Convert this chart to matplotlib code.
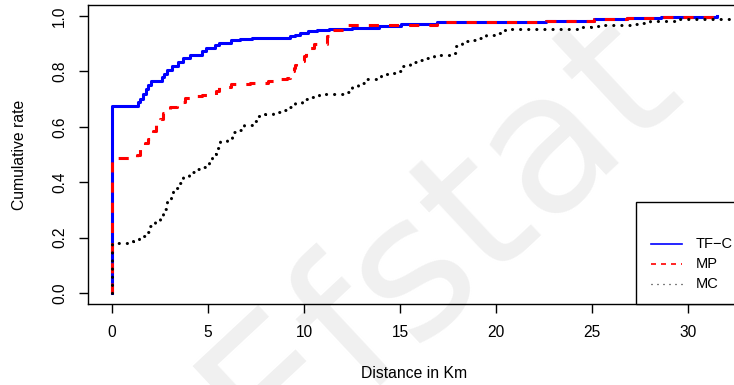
import matplotlib.pyplot as plt
from matplotlib.patches import Rectangle
from matplotlib.lines import Line2D

plt.rcParams['font.family'] = ['Liberation Sans', 'DejaVu Sans']

# empirical cumulative rates, stored as step points (x = distance, y = rate from x onward)
tfc_x = [0, 0, 1.32, 1.45, 1.6, 1.75, 1.85, 2.0, 2.57, 2.7, 2.83, 3.1, 3.44, 3.7, 4.05,
         4.66, 4.88, 5.35, 5.57, 6.2, 6.65, 7.26, 9.26, 9.5, 9.78, 10.2, 10.65, 11.3,
         12.5, 13.9, 15.07, 16.9, 22.6, 25.1, 26.8, 28.6, 31.5]
tfc_y = [0, 0.675, 0.69, 0.70, 0.72, 0.735, 0.75, 0.767, 0.78, 0.79, 0.807, 0.82, 0.835,
         0.849, 0.861, 0.873, 0.885, 0.895, 0.901, 0.912, 0.918, 0.921, 0.927, 0.933,
         0.94, 0.945, 0.95, 0.954, 0.958, 0.964, 0.972, 0.978, 0.984, 0.988, 0.994,
         0.997, 1.0]

mp_x = [0, 0, 1.3, 1.45, 1.7, 1.85, 2.0, 2.15, 2.3, 2.5, 2.65, 2.8, 3.0, 3.4, 3.8, 4.3,
        4.66, 5.4, 5.55, 6.2, 7.2, 8.1, 8.6, 9.1, 9.25, 9.35, 9.45, 9.55, 9.6, 10.0,
        10.1, 10.2, 10.5, 11.2, 11.3, 12.3, 16.9, 22.6, 25.1, 26.8, 28.6, 31.5]
mp_y = [0, 0.488, 0.50, 0.52, 0.54, 0.555, 0.57, 0.585, 0.61, 0.63, 0.65, 0.66, 0.673,
        0.69, 0.705, 0.71, 0.714, 0.73, 0.745, 0.753, 0.76, 0.767, 0.771, 0.777, 0.789,
        0.80, 0.813, 0.825, 0.837, 0.855, 0.873, 0.885, 0.90, 0.927, 0.948, 0.966,
        0.978, 0.984, 0.988, 0.994, 0.997, 1.0]

mc_x = [0, 0, 1.1, 1.4, 1.72, 1.93, 2.24, 2.48, 2.66, 2.83, 3.04, 3.18, 3.47, 3.7, 3.99,
        4.34, 4.79, 5.05, 5.21, 5.4, 5.61, 5.96, 6.25, 6.61, 6.88, 7.26, 7.55, 7.97,
        8.39, 8.79, 9.2, 9.55, 9.9, 10.3, 10.77, 11.2, 12.2, 12.47, 12.8, 13.16, 13.98,
        14.46, 14.9, 15.16, 15.5, 15.94, 16.38, 16.77, 17.7, 17.9, 18.23, 18.63, 19.1,
        19.5, 19.93, 20.36, 20.75, 24.4, 24.97, 25.5, 26.0, 27.05, 27.5, 28.0, 29.5, 32.8]
mc_y = [0, 0.18, 0.186, 0.205, 0.219, 0.241, 0.258, 0.279, 0.304, 0.331, 0.353, 0.379,
        0.396, 0.419, 0.436, 0.448, 0.454, 0.473, 0.502, 0.524, 0.548, 0.56, 0.58, 0.59,
        0.608, 0.62, 0.638, 0.647, 0.653, 0.662, 0.672, 0.687, 0.701, 0.708, 0.717,
        0.72, 0.726, 0.747, 0.759, 0.773, 0.791, 0.795, 0.801, 0.819, 0.835, 0.843,
        0.849, 0.859, 0.867, 0.891, 0.909, 0.915, 0.919, 0.931, 0.94, 0.948, 0.955,
        0.961, 0.964, 0.966, 0.968, 0.97, 0.976, 0.982, 0.988, 0.988]

xticks = [0, 5, 10, 15, 20, 25, 30]
yticks = [0.0, 0.2, 0.4, 0.6, 0.8, 1.0]
labels = ['TF\u2212C', 'MP', 'MC']

W, H = 734, 385
fig = plt.figure(figsize=(W / 100, H / 100), dpi=100)

def fx(px):
    return px / W

def fy(py):
    return 1 - py / H

ax = fig.add_axes([fx(88), fy(304), fx(741) - fx(88), fy(5) - fy(304)])
ax.patch.set_alpha(0)

# background watermark
fig.text(fx(440), fy(238), 'Efstat', rotation=43, fontsize=140, color='#f0f0f0',
         ha='center', va='center', rotation_mode='anchor', zorder=-1,
         family='DejaVu Sans')

ax.plot(tfc_x, tfc_y, drawstyle='steps-post', color='blue', lw=2.2, zorder=2)
ax.plot(mp_x, mp_y, drawstyle='steps-post', color='red', lw=2.2,
        linestyle=(0, (3.3, 3.3)), zorder=3)
ax.plot(mc_x, mc_y, drawstyle='steps-post', color='black', lw=2.2,
        linestyle=(0, (0.05, 2.6)), dash_capstyle='round', zorder=4)

ax.set_xlim(-1.26, 32.76)
ax.set_ylim(-0.04, 1.04)
ax.set_xticks(xticks)
ax.set_xticklabels([str(t) for t in xticks])
ax.set_yticks(yticks)
ax.set_yticklabels(['%.1f' % t for t in yticks], rotation=90, va='center')
ax.tick_params(direction='out', length=6.5, width=1, pad=8.5, labelsize=11.2)
for s in ax.spines.values():
    s.set_linewidth(1)

fig.text(fx(414.5), fy(373), 'Distance in Km', fontsize=11.3, ha='center', va='center')
fig.text(fx(20), fy(154.5), 'Cumulative rate', fontsize=11.3, ha='center', va='center',
         rotation=90)

# legend box in the lower right corner
fig.add_artist(Rectangle((fx(636.3), fy(304)), fx(741) - fx(636.3), fy(201.7) - fy(304),
                         transform=fig.transFigure, facecolor='white', edgecolor='black',
                         lw=1, zorder=5))
styles = [dict(color='blue', lw=1.2, linestyle='-'),
          dict(color='red', lw=1.2, linestyle=(0, (3, 3))),
          dict(color='black', lw=0.9, linestyle=(0, (0.8, 4)))]
for i, (lab, st) in enumerate(zip(labels, styles)):
    yy = fy(244 + 20 * i)
    fig.add_artist(Line2D([fx(651), fx(681.7)], [yy, yy], transform=fig.transFigure,
                          zorder=6, **st))
    fig.text(fx(695.7), yy, lab, fontsize=10.5, ha='left', va='center', zorder=6)

fig.savefig('out.png', dpi=100)
